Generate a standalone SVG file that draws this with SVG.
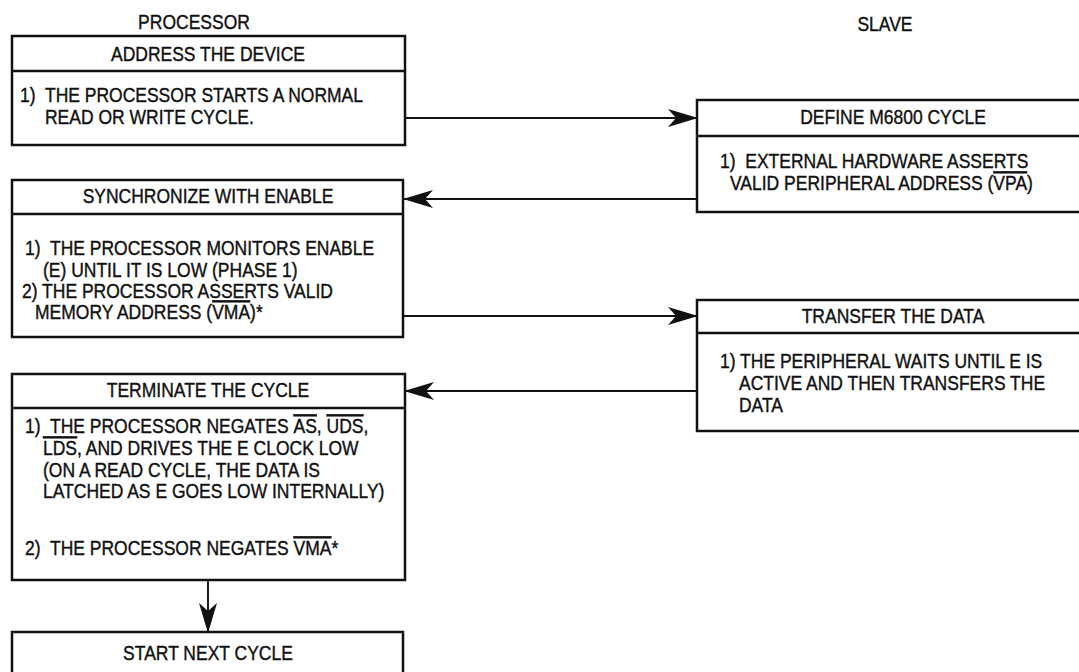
<svg xmlns="http://www.w3.org/2000/svg" width="1079" height="672" viewBox="0 0 1079 672">
<style>
text{font-family:"Liberation Sans",Arial,sans-serif;font-size:17.5px;fill:#111;stroke:#111;stroke-width:0.35px;transform-box:fill-box;transform-origin:0 100%;transform:scaleY(1.15)}
.t{text-anchor:middle}
.box{fill:#fff;stroke:#111;stroke-width:2.5}
.div{stroke:#111;stroke-width:2.5}
.con{stroke:#111;stroke-width:1.9;fill:none}
.ov{text-decoration:overline}
</style>
<defs>
<marker id="ah" markerUnits="userSpaceOnUse" markerWidth="30" markerHeight="20" viewBox="0 0 30 20" refX="29" refY="10" orient="auto">
<path d="M0,1 L30,10 L0,19 L8,10 Z" fill="#111"/>
</marker>
</defs>
<g id="lane-labels">
<text class="t" x="194" y="30">PROCESSOR</text>
<text class="t" x="885" y="32">SLAVE</text>
</g>
<g id="connectors">
<line class="con" x1="405" y1="118" x2="697" y2="118" marker-end="url(#ah)"/>
<line class="con" x1="697" y1="199" x2="404" y2="199" marker-end="url(#ah)"/>
<line class="con" x1="404" y1="316" x2="697" y2="316" marker-end="url(#ah)"/>
<line class="con" x1="697" y1="391" x2="405" y2="391" marker-end="url(#ah)"/>
<line class="con" x1="208" y1="580" x2="208" y2="632" marker-end="url(#ah)"/>
</g>
<g id="n-address">
<rect class="box" x="12" y="36" width="393" height="109"/>
<line class="div" x1="12" y1="71" x2="405" y2="71"/>
<text class="t" x="208" y="62">ADDRESS THE DEVICE</text>
<text x="20" y="103" xml:space="preserve">1)  THE PROCESSOR STARTS A NORMAL</text>
<text x="45" y="125">READ OR WRITE CYCLE.</text>
</g>
<g id="n-define">
<rect class="box" x="697" y="100" width="393" height="112"/>
<line class="div" x1="697" y1="136" x2="1090" y2="136"/>
<text class="t" x="893" y="125">DEFINE M6800 CYCLE</text>
<text x="720" y="169" xml:space="preserve">1)  EXTERNAL HARDWARE ASSERTS</text>
<text x="730" y="191">VALID PERIPHERAL ADDRESS (<tspan class="ov">VPA</tspan>)</text>
</g>
<g id="n-sync">
<rect class="box" x="12" y="180" width="391" height="157"/>
<line class="div" x1="12" y1="214" x2="403" y2="214"/>
<text class="t" x="208" y="204">SYNCHRONIZE WITH ENABLE</text>
<text x="25" y="256" xml:space="preserve">1)  THE PROCESSOR MONITORS ENABLE</text>
<text x="43" y="278">(E) UNTIL IT IS LOW (PHASE 1)</text>
<text x="22" y="299">2) THE PROCESSOR ASSERTS VALID</text>
<text x="35" y="320">MEMORY ADDRESS (<tspan class="ov">VMA</tspan>)*</text>
</g>
<g id="n-transfer">
<rect class="box" x="697" y="300" width="393" height="131"/>
<line class="div" x1="697" y1="333" x2="1090" y2="333"/>
<text class="t" x="893" y="324">TRANSFER THE DATA</text>
<text x="720" y="369">1) THE PERIPHERAL WAITS UNTIL E IS</text>
<text x="739" y="391">ACTIVE AND THEN TRANSFERS THE</text>
<text x="739" y="413">DATA</text>
</g>
<g id="n-terminate">
<rect class="box" x="12" y="374" width="393" height="206"/>
<line class="div" x1="12" y1="408" x2="405" y2="408"/>
<text class="t" x="208" y="398">TERMINATE THE CYCLE</text>
<text x="25" y="434" xml:space="preserve">1)  THE PROCESSOR NEGATES <tspan class="ov">AS</tspan>, <tspan class="ov">UDS</tspan>,</text>
<text x="43" y="456"><tspan class="ov">LDS</tspan>, AND DRIVES THE E CLOCK LOW</text>
<text x="43" y="478">(ON A READ CYCLE, THE DATA IS</text>
<text x="43" y="499">LATCHED AS E GOES LOW INTERNALLY)</text>
<text x="25" y="556" xml:space="preserve">2)  THE PROCESSOR NEGATES <tspan class="ov">VMA</tspan>*</text>
</g>
<g id="n-start">
<rect class="box" x="12" y="632" width="391" height="60"/>
<text class="t" x="208" y="661">START NEXT CYCLE</text>
</g>
</svg>
